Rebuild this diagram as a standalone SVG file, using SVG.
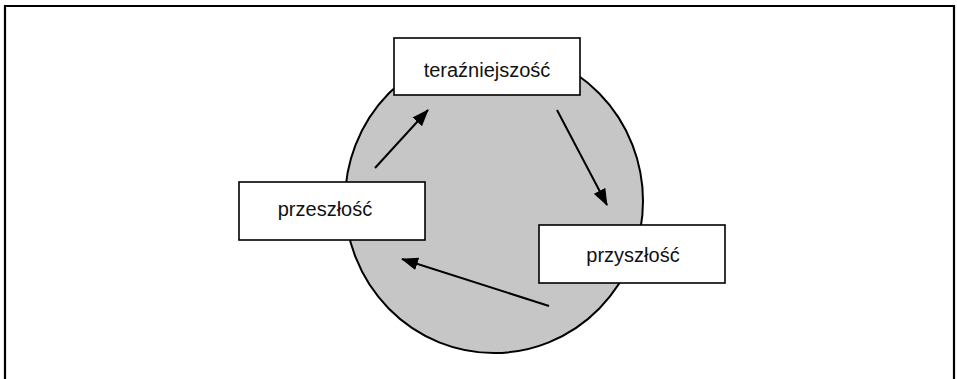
<svg xmlns="http://www.w3.org/2000/svg" width="957" height="379" viewBox="0 0 957 379">
  <defs>
    <style>
      .box { fill: #ffffff; stroke: #000000; stroke-width: 1.6; }
      .lbl { font-family: "Liberation Sans", Arial, sans-serif; font-size: 20px; fill: #111111; text-anchor: middle; }
      .conn { stroke: #000000; stroke-width: 2; fill: none; marker-end: url(#ah); }
    </style>
    <marker id="ah" viewBox="0 0 17 13" refX="16" refY="6.5" markerWidth="17" markerHeight="13" markerUnits="userSpaceOnUse" orient="auto">
      <path d="M0,0 L17,6.5 L0,13 Z" fill="#000000"/>
    </marker>
  </defs>
  <rect width="957" height="379" fill="#ffffff"/>
  <path d="M5,379 V6 H954 V379" fill="none" stroke="#000000" stroke-width="2.2"/>
  <g id="cycle">
    <ellipse cx="494" cy="201" rx="149" ry="152" fill="#c6c6c6" stroke="#000000" stroke-width="2"/>
  </g>
  <g id="connectors">
    <line class="conn" x1="375" y1="168" x2="428" y2="110"/>
    <line class="conn" x1="557" y1="110" x2="607" y2="205"/>
    <line class="conn" x1="549" y1="306" x2="402" y2="259"/>
  </g>
  <g id="terazniejszosc">
    <rect class="box" x="394" y="38" width="186" height="57"/>
    <text class="lbl" x="487" y="77">teraźniejszość</text>
  </g>
  <g id="przeszlosc">
    <rect class="box" x="239" y="182" width="186" height="58"/>
    <text class="lbl" x="325" y="216">przeszłość</text>
  </g>
  <g id="przyszlosc">
    <rect class="box" x="539" y="225" width="186" height="58"/>
    <text class="lbl" x="633" y="262">przyszłość</text>
  </g>
</svg>
